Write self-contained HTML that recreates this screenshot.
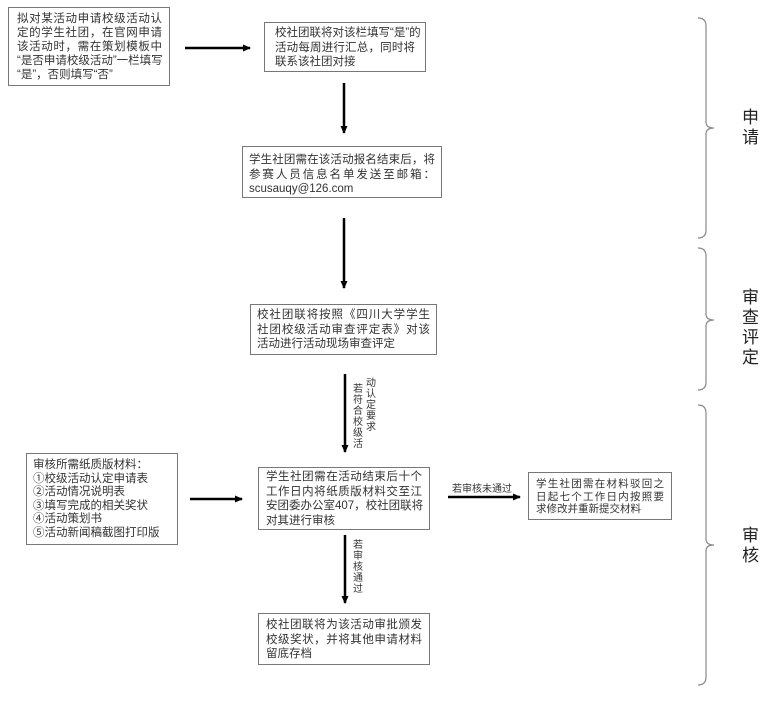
<!DOCTYPE html>
<html><head><meta charset="utf-8"><style>
body{margin:0;width:771px;height:701px;background:#fff;position:relative;overflow:hidden;font-family:"Liberation Sans","Noto Sans CJK SC",sans-serif;color:#333}
.b{position:absolute;border:1px solid #777;box-sizing:border-box;font-size:11.5px;line-height:14.5px;padding:4px 7px;background:#fff;white-space:nowrap}
.b div.j{text-align:justify;text-align-last:justify}
.v{position:absolute;font-size:10px;line-height:11px;width:11px;color:#333;word-break:break-all}
.l{position:absolute;font-size:17px;line-height:20px;width:18px;color:#222}
</style></head><body>
<svg width="771" height="701" style="position:absolute;left:0;top:0">
<defs><marker id="a" markerWidth="8" markerHeight="8" refX="7" refY="4" orient="auto" markerUnits="userSpaceOnUse"><path d="M0,0.5 L8,4 L0,7.5z" fill="#000"/></marker></defs>
<g stroke="#000" stroke-width="2.5" fill="none" marker-end="url(#a)">
<line x1="185" y1="48" x2="250" y2="48"/>
<line x1="344" y1="83" x2="344" y2="133"/>
<line x1="344" y1="218" x2="344" y2="288"/>
<line x1="345" y1="374" x2="345" y2="452"/>
<line x1="190" y1="499" x2="242" y2="499"/>
<line x1="448" y1="497" x2="520" y2="497"/>
<line x1="345" y1="535" x2="345" y2="603"/>
</g>
<g stroke="#888" stroke-width="1.2" fill="none">
<path d="M698,18 Q706,18 706,26 L706,122 Q706,128 714,128 Q706,128 706,134 L706,230 Q706,238 698,238"/>
<path d="M698,248 Q706,248 706,256 L706,314 Q706,320 714,320 Q706,320 706,326 L706,382 Q706,390 698,390"/>
<path d="M698,405 Q706,405 706,413 L706,539 Q706,545 714,545 Q706,545 706,551 L706,677 Q706,685 698,685"/>
</g>
</svg>
<div class="b" style="left:8px;top:7px;width:162px;height:79px;padding:4px 7px 0 8px;line-height:14px;"><div class="j">拟对某活动申请校级活动认</div><div class="j">定的学生社团，在官网申请</div><div class="j">该活动时，需在策划模板中</div><div class="j">“是否申请校级活动”一栏填写</div><div>“是”，否则填写“否”</div></div>
<div class="b" style="left:264px;top:22px;width:162px;height:50px;padding:3px 10px 0 10px;"><div class="j">校社团联将对该栏填写“是”的</div><div class="j">活动每周进行汇总，同时将</div><div>联系该社团对接</div></div>
<div class="b" style="left:242px;top:146px;width:200px;height:52px;padding:6px 6px 0 6px;"><div class="j">学生社团需在该活动报名结束后，将</div><div class="j">参赛人员信息名单发送至邮箱：</div><div>scusauqy@126.com</div></div>
<div class="b" style="left:250px;top:304px;width:187px;height:51px;padding:3px 6px 0 6px;"><div class="j">校社团联将按照《四川大学学生</div><div class="j">社团校级活动审查评定表》对该</div><div>活动进行活动现场审查评定</div></div>
<div class="b" style="left:26px;top:453px;width:152px;height:92px;line-height:13.5px;padding:5px 6px;">审核所需纸质版材料：<br>①校级活动认定申请表<br>②活动情况说明表<br>③填写完成的相关奖状<br>④活动策划书<br>⑤活动新闻稿截图打印版</div>
<div class="b" style="left:258px;top:467px;width:172px;height:63px;padding:2px 7px 0 7px;"><div class="j">学生社团需在活动结束后十个</div><div class="j">工作日内将纸质版材料交至江</div><div class="j">安团委办公室407，校社团联将</div><div>对其进行审核</div></div>
<div class="b" style="left:528px;top:472px;width:144px;height:48px;font-size:10.5px;line-height:12.5px;padding:5px 7px 0 7px;"><div class="j">学生社团需在材料驳回之</div><div class="j">日起七个工作日内按照要</div><div>求修改并重新提交材料</div></div>
<div class="b" style="left:258px;top:613px;width:172px;height:52px;padding:4px 7px 0 7px;"><div class="j">校社团联将为该活动审批颁发</div><div class="j">校级奖状，并将其他申请材料</div><div>留底存档</div></div>
<div class="v" style="left:353px;top:384px;">若符合校级活</div>
<div class="v" style="left:366px;top:378px;">动认定要求</div>
<div class="v" style="left:353px;top:540px;">若审核通过</div>
<div style="position:absolute;left:452px;top:480px;font-size:10px;color:#333">若审核未通过</div>
<div class="l" style="left:742px;top:108px;">申请</div>
<div class="l" style="left:742px;top:288px;">审查评定</div>
<div class="l" style="left:742px;top:526px;">审核</div>
</body></html>
